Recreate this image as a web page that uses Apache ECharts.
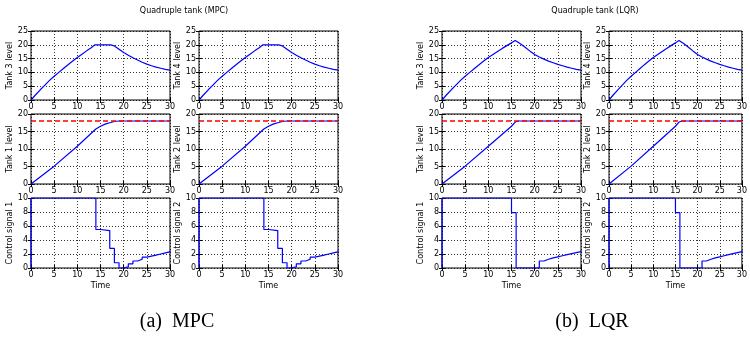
<!DOCTYPE html>
<html>
<head>
<meta charset="utf-8">
<script src="https://cdn.jsdelivr.net/npm/echarts@6/dist/echarts.min.js"></script>
<style>
  html, body { margin: 0; padding: 0; background: #fff; }
  #chart { width: 750px; height: 338px; }
</style>
</head>
<body>
<div id="chart"></div>
<script>
// ---- 数据：MPC ----
const mpcUpperT = [0, 1, 2, 3, 4, 5, 6, 7, 8, 9, 10, 11, 12, 13, 13.8, 17.2, 18, 19, 20, 21, 22, 23, 24, 25, 26, 27, 28, 29, 30]
const mpcUpperV = [0, 1.9, 3.7, 5.4, 7.1, 8.6, 10.0, 11.4, 12.8, 14.1, 15.4, 16.6, 17.8, 18.9, 20, 20, 19.6, 18.4, 17.2, 16.2, 15.3, 14.5, 13.7, 13.0, 12.4, 11.9, 11.5, 11.1, 10.8]
const mpcLowerT = [0, 5, 10, 14, 15, 16, 17, 18, 19, 30]
const mpcLowerV = [0, 5.1, 10.8, 15.7, 16.5, 17.1, 17.5, 17.85, 18, 18]
const mpcCtrlT = [0, 0, 14, 15, 17, 18, 19, 20, 21, 22, 23, 24, 25, 26, 27, 28, 29, 30]
const mpcCtrlV = [0, 10, 5.5, 5.35, 2.8, 0.75, 0, 0.15, 0.6, 1.0, 1.25, 1.55, 1.7, 1.85, 2.0, 2.15, 2.3, 2.45]

// ---- 数据：LQR ----
const lqrUpperT = [0, 1, 2, 3, 4, 5, 6, 7, 8, 9, 10, 11, 12, 13, 14, 15, 15.8, 17, 18, 19, 20, 21, 22, 23, 24, 25, 26, 27, 28, 29, 30]
const lqrUpperV = [0, 1.9, 3.7, 5.4, 7.1, 8.6, 10.0, 11.4, 12.8, 14.1, 15.4, 16.5, 17.6, 18.7, 19.7, 20.7, 21.6, 20.3, 19.0, 17.7, 16.5, 15.6, 14.8, 14.1, 13.5, 12.9, 12.4, 11.9, 11.5, 11.1, 10.8]
const lqrLowerT = [0, 5, 10, 15, 15.8, 16.5, 30]
const lqrLowerV = [0, 5.1, 10.8, 16.5, 17.7, 18, 18]
const lqrCtrlT = [0, 0, 15, 16, 21, 22, 23, 24, 25, 26, 27, 28, 29, 30]
const lqrCtrlV = [0, 10, 7.9, 0, 1.0, 1.25, 1.45, 1.6, 1.75, 1.9, 2.05, 2.2, 2.35, 2.5]

// 参考值（红色虚线）
const refT = [0, 30]
const refV = [18, 18]

const zip = (t, v) => t.map((x, i) => [x, v[i]])

// 版面位置
const COL_LEFT = [31, 199, 442, 609]
const COL_W = [139, 139, 139, 139]
const ROW_TOP = [31, 114, 198]
const ROW_H = [69, 70, 70]

const FONT = 'DejaVu Sans'
const BLUE = '#0000ff'

const rows = [
  { yMax: 25, interval: 5, names: ['Tank 3 level', 'Tank 4 level'], key: 'upper' },
  { yMax: 20, interval: 5, names: ['Tank 1 level', 'Tank 2 level'], key: 'lower' },
  { yMax: 10, interval: 2, names: ['Control signal 1', 'Control signal 2'], key: 'ctrl' },
]

const dataSets = [
  { upper: zip(mpcUpperT, mpcUpperV), lower: zip(mpcLowerT, mpcLowerV), ctrl: zip(mpcCtrlT, mpcCtrlV) },
  { upper: zip(lqrUpperT, lqrUpperV), lower: zip(lqrLowerT, lqrLowerV), ctrl: zip(lqrCtrlT, lqrCtrlV) },
]

const grid = [], xAxis = [], yAxis = [], series = []
const labelStyle = { fontFamily: FONT, fontSize: 8, color: '#000' }
const nameStyle = { fontFamily: FONT, fontSize: 8, color: '#000' }
const tickStyle = { show: true, inside: true, length: 3, lineStyle: { color: '#000', width: 1 } }
const gridLine = { show: true, lineStyle: { color: '#000', width: 0.8, type: [1, 2] } }

for (let c = 0; c < 4; c++) {
  const ds = dataSets[c < 2 ? 0 : 1]
  for (let r = 0; r < 3; r++) {
    const row = rows[r]
    const gi = grid.length
    grid.push({
      left: COL_LEFT[c], top: ROW_TOP[r], width: COL_W[c], height: ROW_H[r],
      show: true, borderColor: '#000', borderWidth: 1, backgroundColor: 'transparent',
    })
    // 下方 x 轴
    xAxis.push({
      type: 'value', gridIndex: gi, min: 0, max: 30, interval: 5,
      axisLine: { show: false }, axisTick: tickStyle, splitLine: gridLine,
      axisLabel: { ...labelStyle, margin: 3, showMinLabel: true, showMaxLabel: true },
      name: r === 2 ? 'Time' : '', nameLocation: 'middle', nameGap: 14,
      nameTextStyle: nameStyle,
    })
    // 上方刻度
    xAxis.push({
      type: 'value', gridIndex: gi, min: 0, max: 30, interval: 5, position: 'top',
      axisLine: { show: false }, axisTick: tickStyle, splitLine: { show: false },
      axisLabel: { show: false },
    })
    yAxis.push({
      type: 'value', gridIndex: gi, min: 0, max: row.yMax, interval: row.interval,
      axisLine: { show: false }, axisTick: tickStyle, splitLine: gridLine,
      axisLabel: { ...labelStyle, margin: 3, showMinLabel: true, showMaxLabel: true },
      name: row.names[c % 2], nameLocation: 'middle', nameGap: 15,
      nameTextStyle: nameStyle,
    })
    // 右侧刻度
    yAxis.push({
      type: 'value', gridIndex: gi, min: 0, max: row.yMax, interval: row.interval, position: 'right',
      axisLine: { show: false }, axisTick: tickStyle, splitLine: { show: false },
      axisLabel: { show: false },
    })
    const xi = gi * 2, yi = gi * 2
    series.push({
      type: 'line', xAxisIndex: xi, yAxisIndex: yi, data: ds[row.key],
      showSymbol: false, symbol: 'none', step: row.key === 'ctrl' ? 'end' : false,
      lineStyle: { color: BLUE, width: 1.2 }, z: 3, animation: false,
    })
    if (row.key === 'lower') {
      series.push({
        type: 'line', xAxisIndex: xi, yAxisIndex: yi, data: zip(refT, refV),
        showSymbol: false, symbol: 'none',
        lineStyle: { color: '#ff0000', width: 1.5, type: [5, 3] }, z: 4, animation: false,
      })
    }
  }
}

const txt = (text, x, y, font) => ({
  type: 'text', x, y,
  style: { text, font, fill: '#000', textAlign: 'center', textVerticalAlign: 'middle' },
})

const chart = echarts.init(document.getElementById('chart'))
chart.setOption({
  animation: false,
  grid, xAxis, yAxis, series,
  graphic: [
    txt('Quadruple tank (MPC)', 184, 11, '8px "DejaVu Sans"'),
    txt('Quadruple tank (LQR)', 595, 11, '8px "DejaVu Sans"'),
    txt('(a)  MPC', 177, 322, '20px "Liberation Serif"'),
    txt('(b)  LQR', 592, 322, '20px "Liberation Serif"'),
  ],
})
</script>
</body>
</html>
